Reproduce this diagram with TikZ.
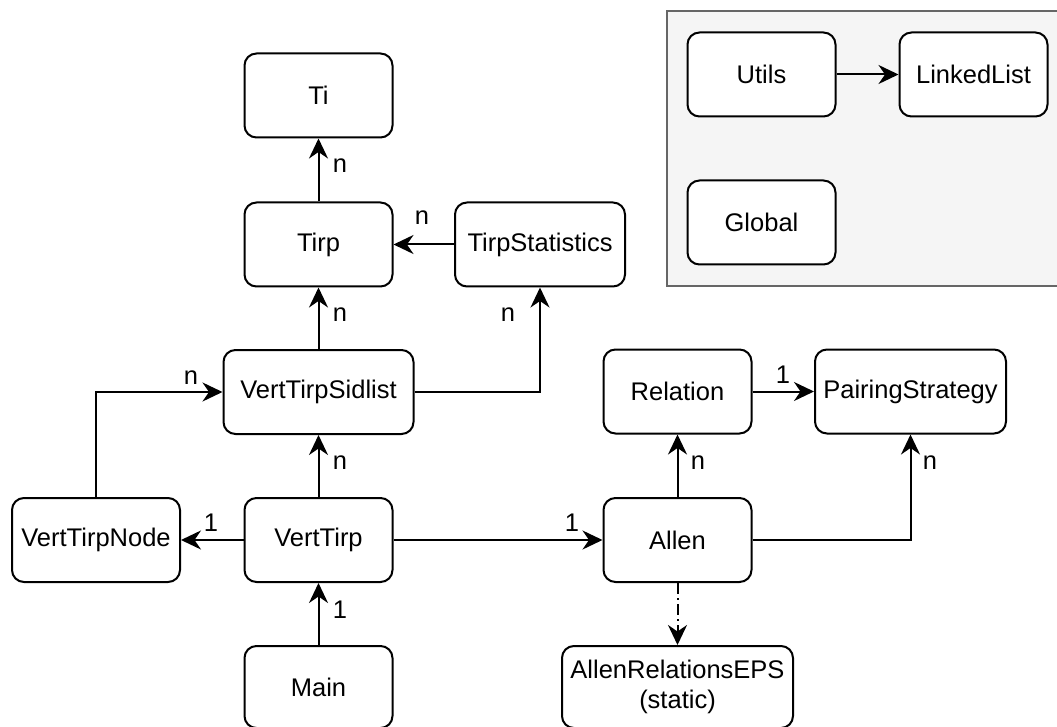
\documentclass[tikz,border=0pt]{standalone}
\usepackage{fontspec}
\setmainfont{Liberation Sans}
\usetikzlibrary{arrows.meta}

\begin{document}
\begin{tikzpicture}[x=1pt,y=-1pt,
  txt/.style={font=\fontsize{25.5}{30}\selectfont},
  cls/.style={txt, draw, line width=2pt, rounded corners=12pt, fill=white,
    inner sep=0pt, align=center, minimum height=84pt, minimum width=148pt},
  link/.style={line width=2pt, -{Stealth[length=20pt,width=19pt,inset=6.5pt]}},
  dashdot/.style={dash pattern=on 11pt off 4pt on 2pt off 4pt},
  mult/.style={txt, inner sep=0pt},
]
\useasboundingbox (0,0) rectangle (1057,727);

% package frame
\draw[line width=2pt, draw={rgb,255:red,102;green,102;blue,102},
      fill={rgb,255:red,245;green,245;blue,245}] (667,11) rectangle (1065,286);

% classes
\node[cls] (ti)     at (318.5,95.5)  {Ti};
\node[cls] (tirp)   at (318.5,244.5) {Tirp};
\node[cls, minimum width=170pt] (tstat) at (540,244.5) {TirpStatistics};
\node[cls, minimum width=190pt] (sid)   at (318.5,392) {VertTirpSidlist};
\node[cls, minimum width=168pt] (vnode) at (96,540)    {VertTirpNode};
\node[cls] (vtirp)  at (318.5,540)   {VertTirp};
\node[cls, minimum height=82pt] (main) at (318.5,687) {Main};
\node[cls] (allen)  at (677.5,540)   {Allen};
\node[cls] (rel)    at (677.5,391.5) {Relation};
\node[cls, minimum width=191pt] (pair) at (910.5,391.5) {PairingStrategy};
\node[cls, minimum width=231pt, minimum height=82pt] (eps) at (677.5,687)
  {AllenRelationsEPS\\(static)};
\node[cls] (utils)  at (761.5,74.5)  {Utils};
\node[cls] (linked) at (973.5,74.5)  {LinkedList};
\node[cls] (global) at (761.5,222.5) {Global};

% associations
\draw[link] (tirp) -- (ti);
\draw[link] (tstat) -- (tirp);
\draw[link] (sid) -- (tirp);
\draw[link] (sid.east) -| (tstat.south);
\draw[link] (vnode.north) |- (sid.west);
\draw[link] (vtirp) -- (sid);
\draw[link] (vtirp) -- (vnode);
\draw[link] (main) -- (vtirp);
\draw[link] (vtirp) -- (allen);
\draw[link] (allen) -- (rel);
\draw[link] (rel) -- (pair);
\draw[link] (allen.east) -| (pair.south);
\draw[link, dashdot] (allen) -- (eps);
\draw[link] (utils) -- (linked);

% multiplicities
\node[mult] (m1)  at (340,166) {n};
\node[mult] (m2)  at (422,218) {n};
\node[mult] (m3)  at (340,315) {n};
\node[mult] (m4)  at (508,315) {n};
\node[mult] (m5)  at (191,378) {n};
\node[mult] (m6)  at (340,463) {n};
\node[mult] (m7)  at (211,523) {1};
\node[mult] (m8)  at (340,610) {1};
\node[mult] (m9)  at (572,523) {1};
\node[mult] (m10) at (698,463) {n};
\node[mult] (m11) at (783,375) {1};
\node[mult] (m12) at (930,463) {n};
\end{tikzpicture}
\end{document}
